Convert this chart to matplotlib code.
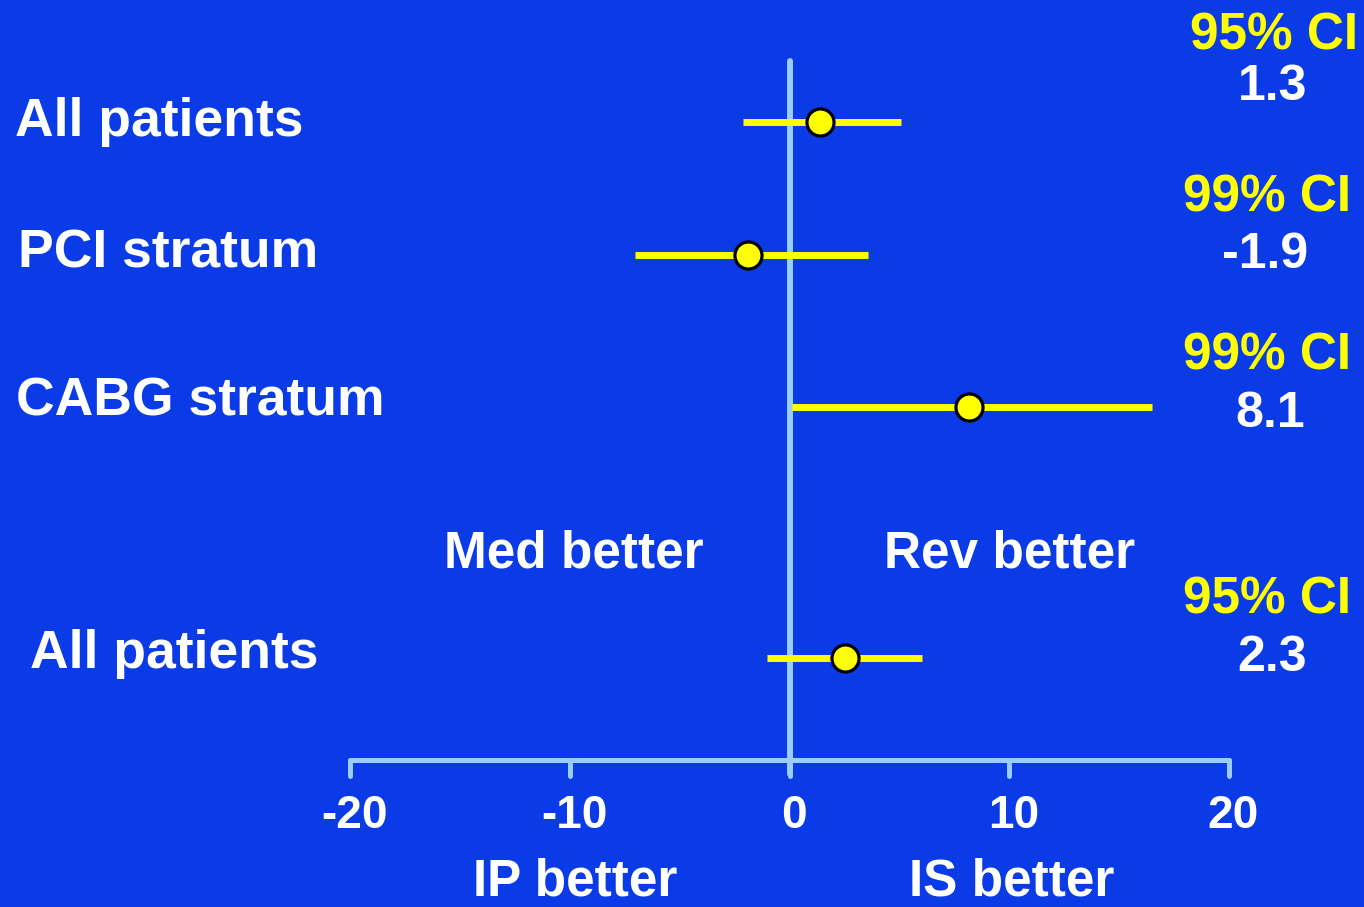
import matplotlib
matplotlib.use('Agg')
import matplotlib.pyplot as plt

plt.rcParams['font.family'] = ['Liberation Sans', 'DejaVu Sans']
plt.rcParams['font.weight'] = 'bold'

# Data
labels = ['All patients', 'PCI stratum', 'CABG stratum', 'All patients']
estimate = [1.4, -1.9, 8.15, 2.5]
ci_low = [-2.15, -7.05, 0.1, -1.05]
ci_high = [5.05, 3.56, 16.5, 6.0]
ci_names = ['95% CI', '99% CI', '99% CI', '95% CI']
ci_values = ['1.3', '-1.9', '8.1', '2.3']
ticks = [-20, -10, 0, 10, 20]
tick_labels = ['-20', '-10', '0', '10', '20']

# Layout (pixel rows of the 1364x907 slide)
row_y = [122, 255, 407, 658]
label_x = [15, 18, 16, 30]
label_base = [136, 268, 416, 668]
ci_base = [50, 211, 370, 613]
ci_right = [1358, 1351, 1351, 1351]
val_base = [100, 268, 427, 671]
val_x = [1273, 1265, 1270, 1272]
axis_y = 760

bg = '#0A3BE6'
axis_col = '#99CCFF'
yellow = '#FFFF00'

fig = plt.figure(figsize=(13.64, 9.07), dpi=100, facecolor=bg)
ax = fig.add_axes([0, 0, 1, 1])
ax.set_facecolor(bg)
scale = (1229 - 350.5) / 40.0
ax.set_xlim(-20 - 350.5 / scale, 20 + (1364 - 1229) / scale)
ax.set_ylim(907, 0)
ax.axis('off')

# zero line and x axis
ax.plot([0, 0], [61, 774], color=axis_col, lw=4.3, solid_capstyle='round', zorder=1)
ax.plot([ticks[0], ticks[-1]], [axis_y, axis_y], color=axis_col, lw=3.6,
        solid_capstyle='round', zorder=1)
for t, tl in zip(ticks, tick_labels):
    ax.plot([t, t], [axis_y, 776], color=axis_col, lw=3.6, solid_capstyle='round', zorder=1)
    ax.text(t + 0.2, 828, tl, color='white', fontsize=33, ha='center', va='baseline')

# confidence intervals, point estimates and labels
for i in range(len(labels)):
    ax.plot([ci_low[i], ci_high[i]], [row_y[i], row_y[i]], color=yellow, lw=5,
            solid_capstyle='butt', zorder=2)
    ax.plot(estimate[i], row_y[i], 'o', color=yellow, markersize=19.5,
            markeredgecolor='black', markeredgewidth=2.3, zorder=3)
    fig.text(label_x[i] / 1364, 1 - label_base[i] / 907, labels[i], color='white',
             fontsize=38.5, ha='left', va='baseline')
    fig.text(ci_right[i] / 1364, 1 - ci_base[i] / 907, ci_names[i], color=yellow,
             fontsize=37, ha='right', va='baseline')
    fig.text(val_x[i] / 1364, 1 - val_base[i] / 907, ci_values[i], color='white',
             fontsize=36, ha='center', va='baseline')

# direction labels
fig.text(574 / 1364, 1 - 567 / 907, 'Med better', color='white', fontsize=37,
         ha='center', va='baseline')
fig.text(1010 / 1364, 1 - 567 / 907, 'Rev better', color='white', fontsize=37,
         ha='center', va='baseline')
fig.text(575 / 1364, 1 / 907, 'IP better', color='white', fontsize=37,
         ha='center', va='bottom')
fig.text(1012 / 1364, 1 / 907, 'IS better', color='white', fontsize=37,
         ha='center', va='bottom')

fig.savefig('out.png', dpi=100, facecolor=bg)
